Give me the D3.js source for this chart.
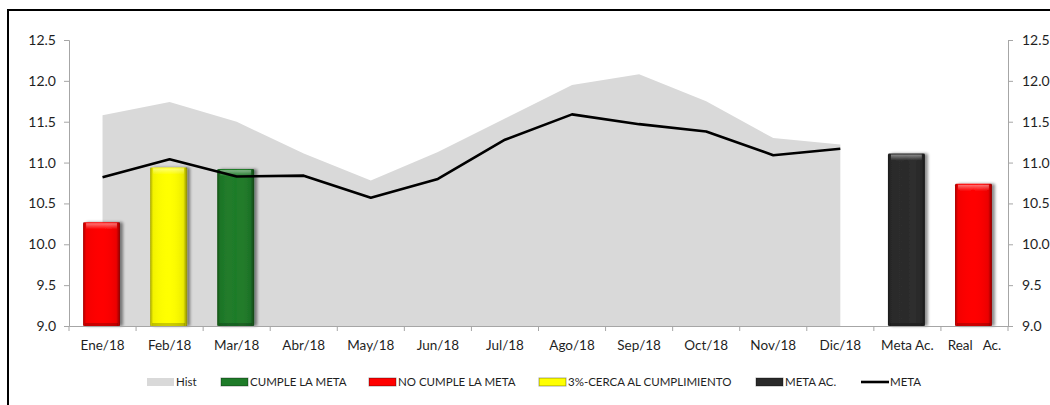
<!DOCTYPE html>
<html>
<head>
<meta charset="utf-8">
<script src="https://cdn.jsdelivr.net/npm/d3@7"></script>
<style>
  body { margin: 0; background: #fff; }
  text { font-family: Lato, "Open Sans", sans-serif; fill: #1f1f1f; }
</style>
</head>
<body>
<div id="chart"></div>
<script>
const categories = ["Ene/18", "Feb/18", "Mar/18", "Abr/18", "May/18", "Jun/18", "Jul/18",
  "Ago/18", "Sep/18", "Oct/18", "Nov/18", "Dic/18", "Meta Ac.", "Real   Ac."];

// historico (area gris) y meta mensual (linea negra)
const hist = [11.58, 11.74, 11.50, 11.11, 10.78, 11.13, 11.54, 11.95, 12.08, 11.75, 11.30, 11.22];
const meta = [10.82, 11.04, 10.83, 10.84, 10.57, 10.80, 11.28, 11.59, 11.47, 11.38, 11.09, 11.17];

// barras con su estado
const barCats = ["Ene/18", "Feb/18", "Mar/18", "Meta Ac.", "Real   Ac."];
const barValues = [10.27, 10.94, 10.92, 11.11, 10.74];
const barStatus = ["no", "cerca", "cumple", "metaac", "no"];

const yTicks = [9.0, 9.5, 10.0, 10.5, 11.0, 11.5, 12.0, 12.5];

const legendItems = [
  { key: "hist", label: "Hist" },
  { key: "cumple", label: "CUMPLE LA META" },
  { key: "no", label: "NO CUMPLE LA META" },
  { key: "cerca", label: "3%-CERCA AL CUMPLIMIENTO" },
  { key: "metaac", label: "META AC." },
  { key: "meta", label: "META" }
];

const colors = {
  cumple: "#1e7b28",
  no: "#ff0000",
  cerca: "#ffff00",
  metaac: "#2a2a2a",
  hist: "#d9d9d9"
};

const width = 1050, height = 405;
const mLeft = 69, mRight = 1008, mTop = 40, mBottom = 326;

const svg = d3.select("#chart").append("svg")
  .attr("width", width)
  .attr("height", height);

const defs = svg.append("defs");

// sombra de las barras
const shadow = defs.append("filter").attr("id", "shadow")
  .attr("x", "-20%").attr("y", "-10%").attr("width", "160%").attr("height", "130%");
shadow.append("feGaussianBlur").attr("in", "SourceAlpha").attr("stdDeviation", 1.5);
shadow.append("feOffset").attr("dx", 3).attr("dy", 0).attr("result", "off");
shadow.append("feComponentTransfer").append("feFuncA").attr("type", "linear").attr("slope", 0.45);
const merge = shadow.append("feMerge");
merge.append("feMergeNode");
merge.append("feMergeNode").attr("in", "SourceGraphic");

// bisel lateral
const side = defs.append("linearGradient").attr("id", "bevelSide")
  .attr("x1", "0").attr("x2", "1").attr("y1", "0").attr("y2", "0");
[[0, "#000", 0.35], [0.08, "#000", 0.05], [0.5, "#fff", 0.0], [0.9, "#000", 0.08], [1, "#000", 0.45]]
  .forEach(([o, c, a]) => side.append("stop").attr("offset", o).attr("stop-color", c).attr("stop-opacity", a));

const topG = defs.append("linearGradient").attr("id", "bevelTop")
  .attr("x1", "0").attr("x2", "0").attr("y1", "0").attr("y2", "1");
[[0, "#fff", 0.45], [1, "#fff", 0.0]]
  .forEach(([o, c, a]) => topG.append("stop").attr("offset", o).attr("stop-color", c).attr("stop-opacity", a));

// marco exterior
svg.append("rect")
  .attr("x", 8).attr("y", 10)
  .attr("width", 1200).attr("height", 600)
  .attr("fill", "none")
  .attr("stroke", "#000")
  .attr("stroke-width", 2);

const x = d3.scaleBand().domain(categories).range([mLeft, mRight]).padding(0);
const y = d3.scaleLinear().domain([9, 12.5]).range([mBottom, mTop]);
const cx = c => x(c) + x.bandwidth() / 2;

// area historica
const area = d3.area()
  .x((d, i) => cx(categories[i]))
  .y0(y(9))
  .y1(d => y(d));
svg.append("path")
  .datum(hist)
  .attr("fill", colors.hist)
  .attr("d", area);

// barras
const barW = x.bandwidth() * 0.55;
const bars = svg.append("g").selectAll("g")
  .data(barValues)
  .join("g")
  .attr("filter", "url(#shadow)");

bars.append("rect")
  .attr("x", (d, i) => cx(barCats[i]) - barW / 2 - 1)
  .attr("y", d => y(d))
  .attr("width", barW)
  .attr("height", d => y(9) - y(d))
  .attr("rx", 1.5)
  .attr("fill", (d, i) => colors[barStatus[i]]);

bars.append("rect")
  .attr("x", (d, i) => cx(barCats[i]) - barW / 2 - 1)
  .attr("y", d => y(d))
  .attr("width", barW)
  .attr("height", d => y(9) - y(d))
  .attr("fill", "url(#bevelSide)");

bars.append("rect")
  .attr("x", (d, i) => cx(barCats[i]) - barW / 2 + 2)
  .attr("y", d => y(d) + 1)
  .attr("width", barW - 6)
  .attr("height", 6)
  .attr("fill", "url(#bevelTop)");

bars.append("rect")
  .attr("x", (d, i) => cx(barCats[i]) - barW / 2 + 1)
  .attr("y", d => y(9) - 3)
  .attr("width", barW - 4)
  .attr("height", 3)
  .attr("fill", "#000")
  .attr("opacity", 0.2);

// linea meta
const line = d3.line()
  .x((d, i) => cx(categories[i]))
  .y(d => y(d));
svg.append("path")
  .datum(meta)
  .attr("fill", "none")
  .attr("stroke", "#000")
  .attr("stroke-width", 2.6)
  .attr("stroke-linejoin", "round")
  .attr("d", line);

// ejes
const axisColor = "#a6a6a6";
const gx = svg.append("g")
  .attr("transform", `translate(0,${mBottom})`)
  .call(d3.axisBottom(x).tickSize(0).tickPadding(14));
gx.select(".domain").attr("stroke", axisColor);
gx.selectAll("text").style("font-size", "13.5px").style("white-space", "pre");
gx.selectAll(".sep")
  .data(d3.range(categories.length + 1))
  .join("line")
  .attr("x1", i => mLeft + i * x.bandwidth())
  .attr("x2", i => mLeft + i * x.bandwidth())
  .attr("y1", 0).attr("y2", 5)
  .attr("stroke", axisColor);

const gyL = svg.append("g")
  .attr("transform", `translate(${mLeft},0)`)
  .call(d3.axisLeft(y).tickValues(yTicks).tickFormat(d3.format(".1f")).tickSize(5).tickPadding(8));
const gyR = svg.append("g")
  .attr("transform", `translate(${mRight},0)`)
  .call(d3.axisRight(y).tickValues(yTicks).tickFormat(d3.format(".1f")).tickSize(5).tickPadding(9));
[gyL, gyR].forEach(g => {
  g.select(".domain").attr("stroke", axisColor);
  g.selectAll(".tick line").attr("stroke", axisColor);
  g.selectAll("text").style("font-size", "14px");
});

// leyenda
const legendX = [147, 221, 369, 539, 756, 861];
const lg = svg.append("g").selectAll("g")
  .data(legendItems)
  .join("g")
  .attr("transform", (d, i) => `translate(${legendX[i]},382)`);

lg.each(function(d) {
  const g = d3.select(this);
  if (d.key === "meta") {
    g.append("line").attr("x1", 0).attr("x2", 28).attr("y1", 0).attr("y2", 0)
      .attr("stroke", "#000").attr("stroke-width", 2.6);
  } else {
    g.append("rect").attr("x", 0).attr("y", -4).attr("width", 27).attr("height", 8)
      .attr("fill", colors[d.key]);
    if (d.key !== "hist") {
      g.append("rect").attr("x", 0).attr("y", -4).attr("width", 27).attr("height", 8)
        .attr("fill", "none").attr("stroke", "#000").attr("stroke-opacity", 0.35);
    }
  }
  g.append("text")
    .attr("x", 29)
    .attr("y", 0)
    .attr("dy", "0.35em")
    .style("font-size", "11.5px")
    .text(d.label);
});
</script>
</body>
</html>
